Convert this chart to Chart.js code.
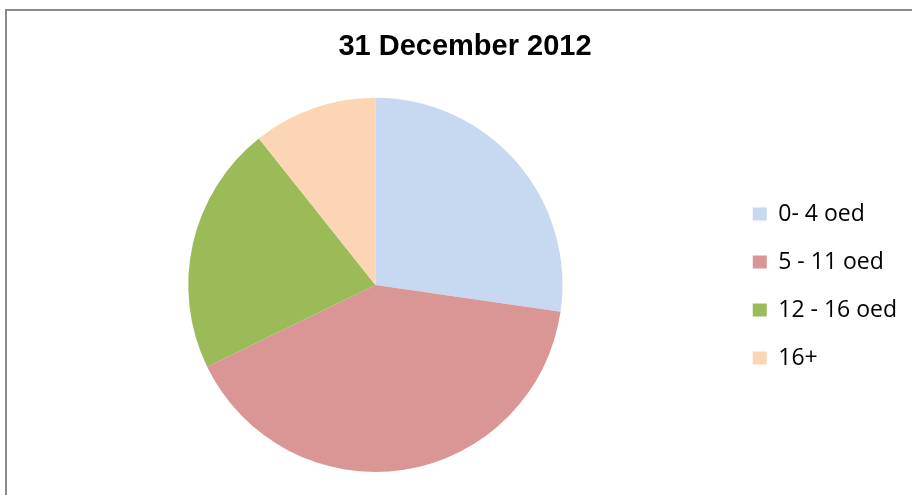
<!DOCTYPE html>
<html>
<head>
<meta charset="utf-8">
<script src="https://cdn.jsdelivr.net/npm/chart.js@4"></script>
<style>
  html, body { margin: 0; padding: 0; background: #fff; }
  #wrap { width: 912px; height: 495px; position: relative; }
</style>
</head>
<body>
<div id="wrap"><canvas id="c" width="912" height="495"></canvas></div>
<script>
const chartTitle = "31 December 2012";
const categories = ["0- 4 oed", "5 - 11 oed", "12 - 16 oed", "16+"];
const values = [27.3, 40.5, 21.5, 10.7];
const colors = ["#C6D9F1", "#D99694", "#9BBB59", "#FCD5B5"];

const frame = {
  id: 'frame',
  beforeDraw(chart) {
    const ctx = chart.ctx;
    ctx.save();
    ctx.fillStyle = '#fff';
    ctx.fillRect(0, 0, chart.width, chart.height);
    ctx.strokeStyle = '#8a8a8a';
    ctx.lineWidth = 2;
    ctx.beginPath();
    ctx.moveTo(6, chart.height);
    ctx.lineTo(6, 10);
    ctx.lineTo(chart.width, 10);
    ctx.stroke();
    ctx.restore();
  }
};

new Chart(document.getElementById('c'), {
  type: 'pie',
  data: {
    labels: categories,
    datasets: [{
      data: values,
      backgroundColor: colors,
      borderWidth: 0
    }]
  },
  options: {
    responsive: false,
    animation: false,
    layout: { padding: { left: 23, right: 5, top: 0, bottom: 23 } },
    plugins: {
      tooltip: { enabled: false },
      title: {
        display: true,
        text: chartTitle,
        color: '#000',
        font: { family: "'Liberation Sans', Arial, sans-serif", size: 29, weight: 'bold' },
        padding: { top: 30, bottom: 33 }
      },
      legend: {
        position: 'right',
        align: 'center',
        title: {
          display: true,
          text: ' ',
          font: { size: 1 },
          padding: { top: 50, bottom: 49 }
        },
        labels: {
          color: '#000',
          font: { family: "'Open Sans', sans-serif", size: 23 },
          boxWidth: 14,
          boxHeight: 13,
          padding: 25
        }
      }
    }
  },
  plugins: [frame]
});
</script>
</body>
</html>
